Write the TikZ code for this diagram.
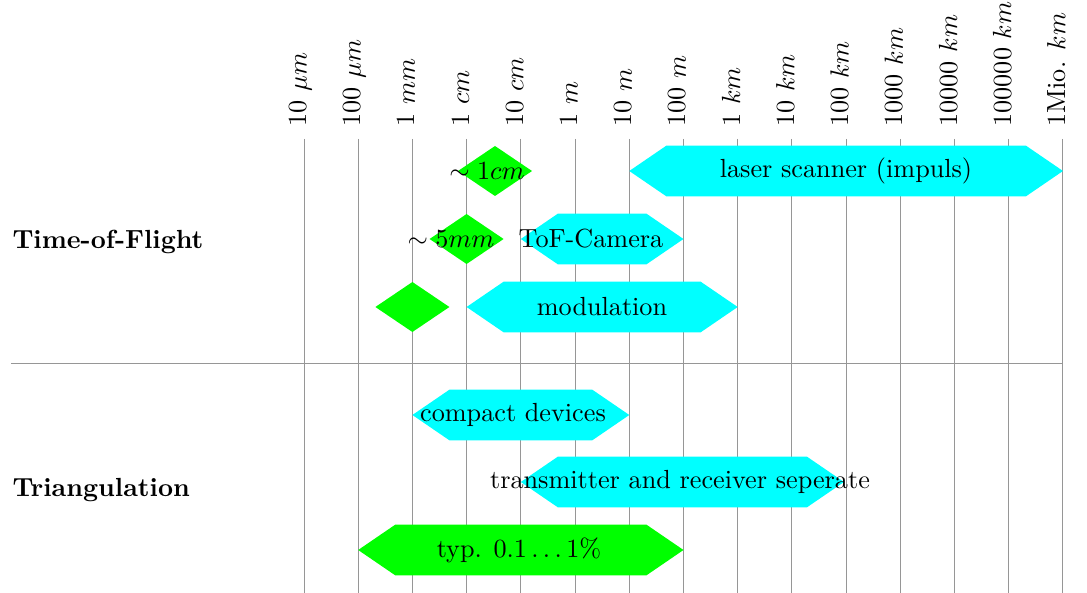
\documentclass[tikz,border=0pt]{standalone}
\usepackage{tikz}

\definecolor{barcyan}{RGB}{0,255,255}
\definecolor{bargreen}{RGB}{0,255,0}
\definecolor{rulegray}{RGB}{150,150,150}

% one unit = one pixel of the 1087 x 593 layout, y grows downwards
\tikzset{
  grid/.style={draw=rulegray, line width=0.35pt},
  divider/.style={draw=rulegray, line width=0.35pt},
  scalelabel/.style={rotate=90, anchor=base west, inner sep=0pt},
  grouplabel/.style={anchor=base west, inner sep=0pt, font=\bfseries},
  barlabel/.style={inner sep=0pt, anchor=center},
  tofcolor/.style={fill=barcyan},
  acccolor/.style={fill=bargreen},
}

% double-pointed range bar: from x #1 to x #2 on row y #3, style #4
\newcommand\rangebar[4]{%
  \path[#4] (#1,#3) -- (#1+37,#3-25.3) -- (#2-37,#3-25.3) -- (#2,#3)
    -- (#2-37,#3+25.3) -- (#1+37,#3+25.3) -- cycle;}
% diamond marker centred at (#1,#2), style #3
\newcommand\markdiamond[3]{%
  \path[#3] (#1-37,#2) -- (#1,#2-25) -- (#1+37,#2) -- (#1,#2+25) -- cycle;}

\begin{document}
\begin{tikzpicture}[x=0.3817pt, y=-0.3817pt]
  \useasboundingbox (0,0) rectangle (1087,593);

  % logarithmic distance scale
  \foreach \lbl [count=\i from 0] in {10 $\mu m$, 100 $\mu m$, 1 $mm$, 1 $cm$,
      10 $cm$, 1 $m$, 10 $m$, 100 $m$, 1 $km$, 10 $km$, 100 $km$, 1000 $km$,
      10000 $km$, 100000 $km$, 1Mio. $km$} {
    \coordinate (top\i) at (304+54.21*\i, 139);
    \coordinate (bot\i) at (304+54.21*\i, 593);
    \draw[grid] (top\i) -- (bot\i);
    \node[scalelabel] (tick\i) at (306.5+54.21*\i, 127) {\lbl};
  }

  % separation between the two measuring principles
  \coordinate (divL) at (11,363);
  \coordinate (divR) at (1063,363);
  \draw[divider] (divL) -- (divR);

  \node[grouplabel] (tof) at (12,249) {Time-of-Flight};
  \node[grouplabel] (tri) at (12,497) {Triangulation};

  % Time-of-Flight ranges
  \rangebar{629.3}{1063}{171}{tofcolor}
  \markdiamond{495}{171}{acccolor}
  \node[barlabel] (laser) at (846,171) {laser scanner (impuls)};
  \node[barlabel] (acc1) at (487,171) {$\sim 1cm$};

  \rangebar{520.8}{683.5}{239}{tofcolor}
  \markdiamond{466.6}{239}{acccolor}
  \node[barlabel] (camera) at (591,239) {ToF-Camera};
  \node[barlabel] (acc2) at (451,239) {$\sim 5mm$};

  \rangebar{466.6}{737.7}{307}{tofcolor}
  \markdiamond{412.4}{307}{acccolor}
  \node[barlabel] (modulation) at (602,307) {modulation};

  % triangulation ranges
  \rangebar{412.4}{629.3}{415}{tofcolor}
  \node[barlabel] (compact) at (513,415) {compact devices};

  \rangebar{520.8}{844}{482}{tofcolor}
  \node[barlabel] (separate) at (680,482) {transmitter and receiver seperate};

  \rangebar{358.2}{683.5}{550}{acccolor}
  \node[barlabel] (typ) at (519,550) {typ. $0.1\ldots1\%$};
\end{tikzpicture}
\end{document}
